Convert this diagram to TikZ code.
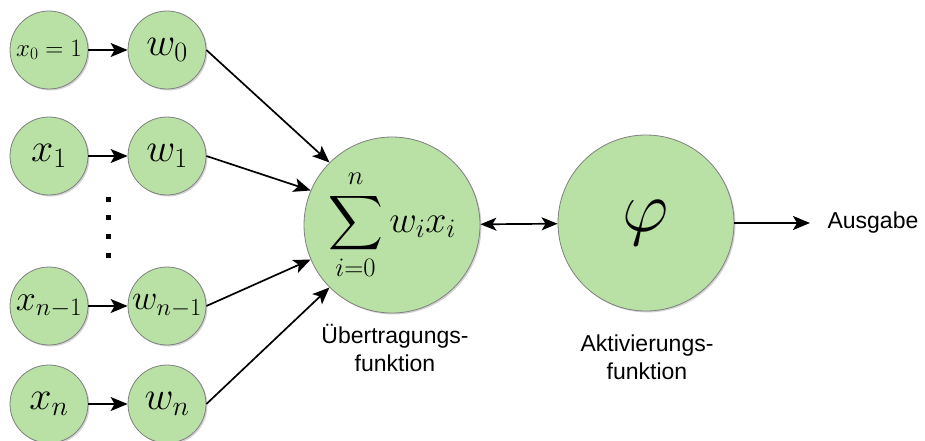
\documentclass[tikz,border=0pt]{standalone}
\usepackage{fix-cm}
\usepackage{amsmath,amssymb}
\usepackage{fontspec}
\setmainfont{Liberation Sans}
\usetikzlibrary{shapes.geometric, arrows.meta, positioning, shadows}

\definecolor{neuronfill}{HTML}{B9E0A5}
\definecolor{neurondraw}{HTML}{808080}

\begin{document}
\begin{tikzpicture}[x=1pt, y=-1pt]
    % Stile
    \tikzstyle{neuron} = [circle, draw=neurondraw, fill=neuronfill, line width=0.8pt, inner sep=0pt, minimum size=78pt,
        drop shadow={shadow xshift=1.5pt, shadow yshift=-1.5pt, opacity=0.35}]
    \tikzstyle{big} = [neuron, minimum size=176pt]
    \tikzstyle{mathtxt} = [font=\fontsize{40}{40}\selectfont]
    \tikzstyle{label} = [align=center, font=\fontsize{23}{28}\selectfont]
    \tikzstyle{arrow} = [line width=1.7pt, -{Stealth[length=17pt, width=14pt, inset=4pt]}]
    \tikzstyle{darrow} = [line width=1.7pt, {Stealth[length=16pt, width=13pt, inset=4pt]}-{Stealth[length=16pt, width=13pt, inset=4pt]}]

    \useasboundingbox (0,0) rectangle (925,441);

    % Eingaenge
    \node (x0) [neuron, font=\fontsize{25}{25}\selectfont] at (49,50) {$x_0=1$};
    \node (x1) [neuron, mathtxt] at (49,156) {$x_1$};
    \node (xm) [neuron, font=\fontsize{36}{36}\selectfont] at (49,306) {$x_{n-1}$};
    \node (xn) [neuron, mathtxt] at (49,404) {$x_n$};

    % Gewichte
    \node (w0) [neuron, mathtxt] at (167,50) {$w_0$};
    \node (w1) [neuron, mathtxt] at (167,156) {$w_1$};
    \node (wm) [neuron, font=\fontsize{35}{35}\selectfont] at (167,306) {$w_{n-1}$};
    \node (wn) [neuron, mathtxt] at (167,404) {$w_n$};

    % Punkte
    \foreach \y in {197,215,234,253}
        \fill (106,\y) rectangle +(4.5,4.5);

    % Summe und Aktivierung
    \node (sum) [big, font=\fontsize{38}{38}\selectfont] at (392,225) {$\displaystyle\sum_{i=0}^{n} w_i x_i$};
    \node (phi) [big, font=\fontsize{72}{72}\selectfont] at (646,223) {$\varphi$};
    \node (out) [anchor=west, font=\fontsize{23}{28}\selectfont] at (824,223) {Ausgabe};
    \coordinate (end) at (810,223);

    \node (ulbl) [label] at (395,348) {Übertragungs-\\funktion};
    \node (albl) [label] at (647,357) {Aktivierungs-\\funktion};

    % Verbindungen
    \draw [arrow] (x0) -- (w0);
    \draw [arrow] (x1) -- (w1);
    \draw [arrow] (xm) -- (wm);
    \draw [arrow] (xn) -- (wn);
    \draw [arrow] (w0.east) -- (sum.135);
    \draw [arrow] (w1.east) -- (sum.157);
    \draw [arrow] (wm.east) -- (sum.203);
    \draw [arrow] (wn.east) -- (sum.225);
    \draw [darrow] (sum) -- (phi);
    \draw [arrow] (phi) -- (end);
\end{tikzpicture}
\end{document}
